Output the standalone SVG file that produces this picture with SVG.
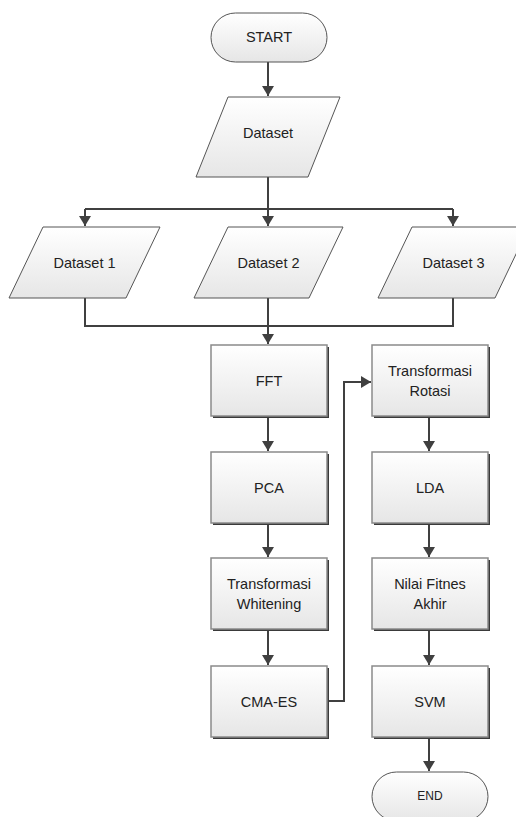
<svg xmlns="http://www.w3.org/2000/svg" width="516" height="817" viewBox="0 0 516 817">
<style>
.box{fill:url(#g);stroke:#8a8a8a;stroke-width:1.5}
.sh{fill:#3a3a3a}
.term{fill:url(#g);stroke:#555;stroke-width:1}
.para{fill:url(#g);stroke:#555;stroke-width:1}
.t{font-family:"Liberation Sans",Arial,sans-serif;font-size:14.5px;fill:#222;text-anchor:middle}
.c{fill:none;stroke:#404040;stroke-width:2}
</style>
<defs>
<linearGradient id="g" x1="0" y1="0" x2="0" y2="1">
<stop offset="0" stop-color="#ffffff"/>
<stop offset="1" stop-color="#e6e6e6"/>
</linearGradient>
<marker id="a" viewBox="0 0 10 12" refX="10" refY="6" markerWidth="10" markerHeight="12" markerUnits="userSpaceOnUse" orient="auto">
<path d="M0,0 L10,6 L0,12 Z" fill="#404040"/>
</marker>
</defs>
<rect width="516" height="817" fill="#fff"/>
<g id="connectors">
<path class="c" d="M268,62 V96" marker-end="url(#a)"/>
<path class="c" d="M268,177 V209"/>
<path class="c" d="M85,209 H453"/>
<path class="c" d="M85,209 V226" marker-end="url(#a)"/>
<path class="c" d="M268,209 V226" marker-end="url(#a)"/>
<path class="c" d="M453,209 V226" marker-end="url(#a)"/>
<path class="c" d="M85,298 V326 H453 V298"/>
<path class="c" d="M268,298 V344" marker-end="url(#a)"/>
<path class="c" d="M268,418 V451" marker-end="url(#a)"/>
<path class="c" d="M268,525 V557" marker-end="url(#a)"/>
<path class="c" d="M268,631 V665" marker-end="url(#a)"/>
<path class="c" d="M329,701 H344 V382 H371" marker-end="url(#a)"/>
<path class="c" d="M429,418 V451" marker-end="url(#a)"/>
<path class="c" d="M429,525 V557" marker-end="url(#a)"/>
<path class="c" d="M429,631 V665" marker-end="url(#a)"/>
<path class="c" d="M429,739 V771" marker-end="url(#a)"/>
</g>
<g id="start">
<rect class="term" x="211" y="13" width="116" height="49" rx="24.5"/>
<text class="t" x="269" y="42">START</text>
</g>
<g id="dataset">
<polygon class="para" points="228,97 340,97 308,177 196,177"/>
<text class="t" x="268" y="138">Dataset</text>
</g>
<g id="dataset1">
<polygon class="para" points="43,227 160,227 126,298 9,298"/>
<text class="t" x="84.5" y="268">Dataset 1</text>
</g>
<g id="dataset2">
<polygon class="para" points="228,227 343,227 309,298 194,298"/>
<text class="t" x="268.5" y="268">Dataset 2</text>
</g>
<g id="dataset3">
<polygon class="para" points="412,227 529,227 495,298 378,298"/>
<text class="t" x="453.5" y="268">Dataset 3</text>
</g>
<g id="fft">
<rect class="sh" x="213" y="347" width="116" height="71"/>
<rect class="box" x="211" y="345" width="116" height="71"/>
<text class="t" x="269" y="386">FFT</text>
</g>
<g id="pca">
<rect class="sh" x="213" y="454" width="116" height="71"/>
<rect class="box" x="211" y="452" width="116" height="71"/>
<text class="t" x="269" y="493">PCA</text>
</g>
<g id="whitening">
<rect class="sh" x="213" y="560" width="116" height="71"/>
<rect class="box" x="211" y="558" width="116" height="71"/>
<text class="t" x="269" y="589">Transformasi</text>
<text class="t" x="269" y="609">Whitening</text>
</g>
<g id="cmaes">
<rect class="sh" x="213" y="668" width="116" height="71"/>
<rect class="box" x="211" y="666" width="116" height="71"/>
<text class="t" x="269" y="707">CMA-ES</text>
</g>
<g id="rotasi">
<rect class="sh" x="374" y="347" width="116" height="71"/>
<rect class="box" x="372" y="345" width="116" height="71"/>
<text class="t" x="430" y="376">Transformasi</text>
<text class="t" x="430" y="396">Rotasi</text>
</g>
<g id="lda">
<rect class="sh" x="374" y="454" width="116" height="71"/>
<rect class="box" x="372" y="452" width="116" height="71"/>
<text class="t" x="430" y="493">LDA</text>
</g>
<g id="fitnes">
<rect class="sh" x="374" y="560" width="116" height="71"/>
<rect class="box" x="372" y="558" width="116" height="71"/>
<text class="t" x="430" y="589">Nilai Fitnes</text>
<text class="t" x="430" y="609">Akhir</text>
</g>
<g id="svm">
<rect class="sh" x="374" y="668" width="116" height="71"/>
<rect class="box" x="372" y="666" width="116" height="71"/>
<text class="t" x="430" y="707">SVM</text>
</g>
<g id="end">
<rect class="term" x="372" y="772" width="116" height="49" rx="24.5"/>
<text class="t" x="430" y="800" style="font-size:12px">END</text>
</g>
</svg>
